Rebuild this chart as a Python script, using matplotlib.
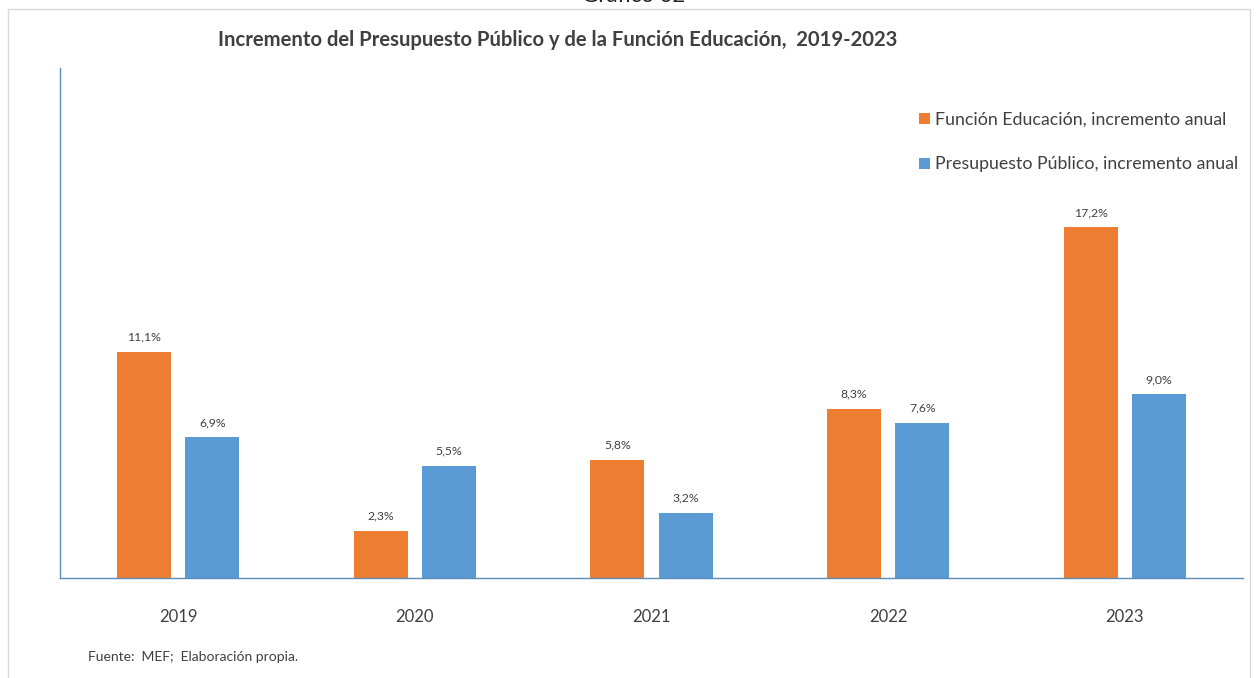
import matplotlib
matplotlib.use("Agg")
import matplotlib.pyplot as plt
import numpy as np
from matplotlib.patches import Rectangle

years = ["2019", "2020", "2021", "2022", "2023"]
educacion = [11.1, 2.3, 5.8, 8.3, 17.2]
presupuesto = [6.9, 5.5, 3.2, 7.6, 9.0]
labels_series = ["Función Educación, incremento anual", "Presupuesto Público, incremento anual"]

plt.rcParams['font.family'] = ['Lato', 'DejaVu Sans']

fig = plt.figure(figsize=(12.56, 6.78), dpi=100)
ax = fig.add_axes([60/1256, 100/678, 1183/1256, 510/678])

x = np.arange(len(years))
w = 0.228
off = 0.144
c_or = "#ED7D31"
c_bl = "#5B9BD5"
b1 = ax.bar(x - off, educacion, w, color=c_or, label=labels_series[0])
b2 = ax.bar(x + off, presupuesto, w, color=c_bl, label=labels_series[1])

for bars, vals in ((b1, educacion), (b2, presupuesto)):
    for b, v in zip(bars, vals):
        ax.text(b.get_x() + b.get_width()/2, v + 0.45, f"{v:.1f}%".replace(".", ","),
                ha="center", va="bottom", fontsize=8.8, color="#404040")

ax.set_xlim(-0.5, 4.5)
ax.set_ylim(0, 25)
ax.set_xticks(x)
ax.set_xticklabels(years, fontsize=12, color="#404040")
ax.tick_params(axis='x', length=0, pad=22)
ax.set_yticks([])
for s in ("top", "right"):
    ax.spines[s].set_visible(False)
for s in ("left", "bottom"):
    ax.spines[s].set_color("#5B8DB8")
    ax.spines[s].set_linewidth(1.0)

leg = ax.legend(loc="upper left", bbox_to_anchor=(843/1183, 1 - 28/510), frameon=False,
                fontsize=12.8, handlelength=0.6, handleheight=0.6, handletextpad=0.3,
                labelspacing=1.6, labelcolor="#404040")

fig.text(558/1256, 1 - 40/678, "Incremento del Presupuesto Público y de la Función Educación,  2019-2023",
         ha="center", va="center", fontsize=14.6, fontweight="bold", color="#404040")
fig.text(88/1256, 1 - 657/678, "Fuente:  MEF;  Elaboración propia.", ha="left", va="center",
         fontsize=10, color="#404040")
fig.text(634/1256, 1 - 1.5/678, "Gráfico 02", ha="center", va="baseline", fontsize=16, color="#222222")

fig.patches.append(Rectangle((8/1256, -0.01), 1242/1256, (678 - 9)/678 + 0.01, transform=fig.transFigure,
                             fill=False, edgecolor="#D9D9D9", linewidth=1.0))

fig.savefig("out.png", dpi=100)
